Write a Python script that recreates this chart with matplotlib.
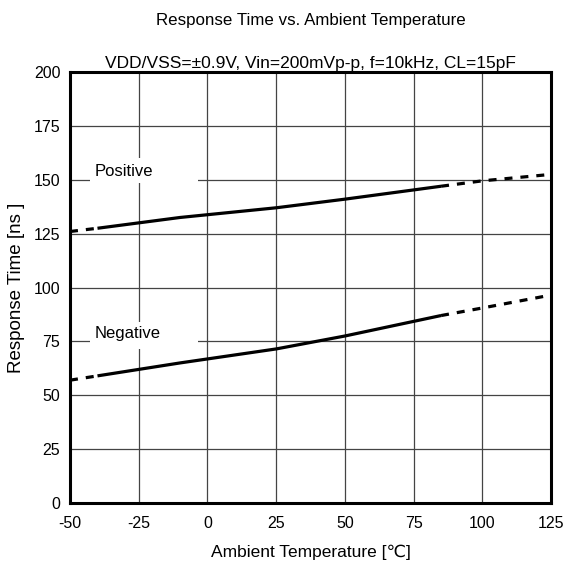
import numpy as np
import matplotlib.pyplot as plt
from matplotlib.patches import Rectangle

plt.rcParams["font.family"] = ["Liberation Sans", "DejaVu Sans"]
plt.rcParams["axes.unicode_minus"] = False

# --- Data ---
temp_solid = [-40, -10, 25, 50, 85]
pos_solid = [127.5, 132.5, 137.0, 141.0, 147.0]
neg_solid = [59.0, 65.0, 71.5, 77.5, 87.0]

temp_lo = [-50, -40]
pos_lo = [126.0, 127.5]
neg_lo = [57.0, 59.0]

temp_hi = [85, 100, 125]
pos_hi = [147.0, 149.5, 152.5]
neg_hi = [87.0, 90.5, 96.5]

xticks = [-50, -25, 0, 25, 50, 75, 100, 125]
yticks = [0, 25, 50, 75, 100, 125, 150, 175, 200]

# --- Figure ---
fig = plt.figure(figsize=(5.7, 5.68), dpi=100)
ax = fig.add_axes([0.1228, 0.1144, 0.8439, 0.7588])

lw = 2.3
for ys_solid, ys_lo, ys_hi in [(pos_solid, pos_lo, pos_hi), (neg_solid, neg_lo, neg_hi)]:
    ax.plot(temp_solid, ys_solid, color="black", lw=lw, solid_capstyle="butt", zorder=3)
    ax.plot(temp_lo, ys_lo, color="black", lw=lw, ls=(0, (2.5, 2.5)), zorder=3)
    ax.plot(temp_hi, ys_hi, color="black", lw=lw, ls=(0, (2.5, 2.5)), zorder=3)

ax.set_xlim(-50, 125)
ax.set_ylim(0, 200)
ax.set_xticks(xticks)
ax.set_yticks(yticks)
ax.grid(True, color="#444444", lw=0.9)
ax.tick_params(axis="x", length=0, labelsize=11.5, pad=9)
ax.tick_params(axis="y", length=0, labelsize=11.5, pad=7)
for s in ax.spines.values():
    s.set_linewidth(2.2)

# --- Series names on white boxes that blank out the grid ---
ax.add_patch(Rectangle((-42.7, 148.5), 39.3, 11.5, facecolor="white", edgecolor="none", zorder=2))
ax.add_patch(Rectangle((-42.7, 71.5), 39.3, 12.5, facecolor="white", edgecolor="none", zorder=2))
ax.text(-41.0, 153.8, "Positive", fontsize=12, va="center", ha="left", zorder=2.5)
ax.text(-41.0, 78.5, "Negative", fontsize=12, va="center", ha="left", zorder=2.5)

# --- Labels and titles ---
ax.set_xlabel("Ambient Temperature [\u2103]", fontsize=12.5, labelpad=10)
ax.set_ylabel("Response Time [ns ]", fontsize=13.5, labelpad=6)

fig.text(0.545, 0.964, "Response Time vs. Ambient Temperature", fontsize=12.2, ha="center", va="center")
ax.text(0.5, 1.002, "VDD/VSS=\u00b10.9V, Vin=200mVp-p, f=10kHz, CL=15pF",
        transform=ax.transAxes, fontsize=12.5, ha="center", va="bottom")

fig.savefig("out.png", dpi=100)
